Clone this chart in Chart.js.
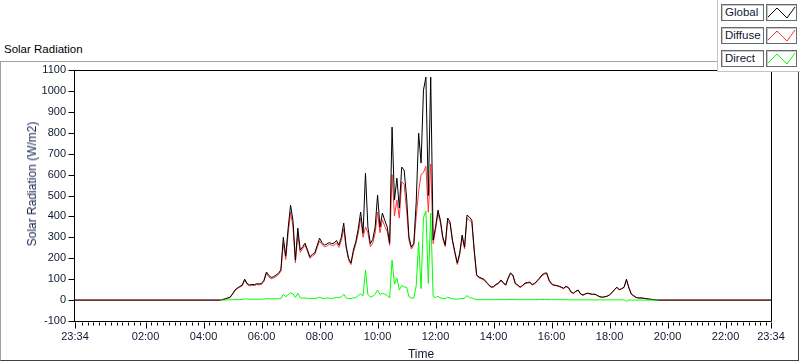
<!DOCTYPE html>
<html>
<head>
<meta charset="utf-8">
<title>Solar Radiation</title>
<script src="https://cdn.jsdelivr.net/npm/chart.js@4.4.0/dist/chart.umd.min.js"></script>
<style>
  html, body { margin: 0; padding: 0; background: #fff; }
  body { width: 800px; height: 361px; position: relative; overflow: hidden; font-family: "Liberation Sans", Arial, sans-serif; }
  #frame { position: absolute; left: 0; top: 61px; width: 797px; height: 298px;
           border: 1px solid #a0a0a0; border-right-color: #404040; border-bottom-color: #404040; }
  #title { position: absolute; left: 4px; top: 43px; font-size: 11.5px; color: #000; }
  #wrap { position: absolute; left: 0; top: 0; width: 800px; height: 361px; }
  #ytitle { position: absolute; left: 32px; top: 184px; transform: translate(-50%, -50%) rotate(-90deg);
            white-space: nowrap; font-size: 12px; color: #1a2550; }
  #xtitle { position: absolute; left: 421px; top: 354px; transform: translate(-50%, -50%);
            font-size: 12px; color: #101830; }
  #legend { position: absolute; left: 717px; top: 0; width: 82px; height: 71px; background: #fff;
            border-left: 1px solid #c4c4c4; border-bottom: 1px solid #c4c4c4; }
  .lab { position: absolute; left: 3px; width: 41px; height: 15px; line-height: 15px; padding-left: 0;
         border: 1px solid #6a6a6a; box-shadow: inset 1px 1px 0 #c8c8c8; font-size: 11.5px; color: #101830; }
  .lab span { padding-left: 3px; }
  .smp { position: absolute; left: 48px; width: 29px; height: 15px; border: 1px solid #6a6a6a;
         box-shadow: inset 1px 1px 0 #c8c8c8; }
  .smp svg { position: absolute; left: 0; top: 0; }
</style>
</head>
<body>
<div id="frame"></div>
<div id="title">Solar Radiation</div>
<div id="wrap"><canvas id="grafico"></canvas></div>
<div id="ytitle">Solar Radiation (W/m2)</div>
<div id="xtitle">Time</div>
<div id="legend"></div>
<script>
// X window: 24 h starting 23:34 of the previous day (minutes from midnight)
const windowStart = -26;
const windowEnd = 1414;

// Samples every 5 minutes starting 04:35 (one row per hour)
const sampleStart = '04:35';
const sampleStep = 5;

const seriesNames = ['Global', 'Diffuse', 'Direct'];
const seriesColors = ['#000000', '#ff3434', '#00ff00'];

const globalW = [
  0, 3, 6, 10, 14,
  30, 48, 58, 65, 72, 100, 80, 72, 75, 74, 78, 77,
  80, 95, 134, 118, 108, 112, 120, 128, 145, 300, 210, 344,
  454, 380, 191, 344, 239, 255, 272, 240, 207, 218, 225, 260,
  296, 275, 263, 268, 275, 270, 272, 285, 263, 300, 368, 258,
  200, 177, 239, 280, 340, 421, 320, 607, 349, 270, 290, 349,
  502, 349, 416, 380, 349, 272, 827, 478, 583, 440, 636, 621,
  492, 301, 253, 272, 470, 798, 655, 1004, 1066, 500, 1066, 287,
  349, 430, 382, 301, 263, 392, 373, 287, 230, 177, 225, 311,
  253, 406, 397, 382, 239, 120, 110, 105, 100, 86, 75, 62,
  65, 75, 81, 96, 85, 72, 105, 130, 120, 80, 72, 62,
  70, 81, 84, 86, 75, 80, 92, 105, 120, 128, 130, 95,
  78, 72, 70, 67, 62, 57, 66, 60, 40, 33, 42, 48,
  30, 24, 30, 33, 30, 28, 28, 22, 16, 14, 16, 19,
  25, 36, 50, 62, 50, 55, 62, 100, 57, 28, 20, 12,
  10, 10, 9, 7, 5, 4, 2, 1, 0
];

const diffuseW = [
  0, 3, 6, 9, 13,
  28, 45, 55, 62, 68, 94, 75, 68, 71, 70, 74, 73,
  75, 90, 127, 111, 102, 106, 113, 122, 138, 272, 194, 318,
  420, 350, 178, 312, 228, 246, 262, 232, 200, 210, 218, 250,
  282, 266, 255, 258, 266, 262, 262, 273, 252, 285, 340, 248,
  192, 170, 228, 268, 318, 392, 300, 350, 322, 256, 272, 320,
  420, 322, 384, 352, 327, 262, 600, 402, 478, 392, 565, 555,
  430, 285, 244, 262, 400, 520, 600, 610, 640, 420, 650, 270,
  338, 414, 370, 292, 255, 378, 362, 280, 222, 170, 217, 300,
  245, 392, 384, 370, 232, 116, 106, 101, 96, 83, 72, 60,
  63, 72, 78, 92, 82, 70, 101, 126, 116, 77, 70, 60,
  68, 78, 81, 83, 72, 77, 89, 101, 116, 124, 126, 91,
  75, 70, 68, 65, 60, 54, 64, 58, 38, 31, 40, 46,
  29, 23, 29, 32, 29, 27, 27, 21, 15, 13, 15, 18,
  24, 35, 48, 60, 48, 53, 60, 94, 62, 30, 22, 13,
  11, 10, 9, 7, 5, 4, 2, 1, 0
];

const directW = [
  0, 0, 0, 1, 1,
  2, 3, 3, 2, 4, 6, 5, 4, 4, 4, 4, 4,
  5, 5, 7, 7, 6, 6, 7, 6, 7, 28, 16, 26,
  34, 30, 13, 32, 11, 9, 10, 8, 7, 8, 7, 10,
  14, 9, 8, 10, 9, 8, 10, 12, 11, 15, 28, 10,
  8, 7, 11, 12, 22, 29, 20, 143, 27, 14, 18, 29,
  48, 27, 32, 28, 22, 10, 191, 76, 105, 48, 70, 62,
  62, 16, 9, 10, 70, 278, 55, 394, 426, 80, 416, 17,
  12, 18, 10, 8, 6, 14, 10, 6, 5, 4, 6, 8,
  8, 22, 12, 10, 5, 3, 2, 2, 2, 2, 2, 2,
  2, 2, 2, 3, 2, 2, 3, 3, 3, 2, 2, 2,
  2, 2, 2, 2, 2, 2, 2, 3, 3, 3, 3, 2,
  2, 2, 2, 2, 2, 2, 2, 1, 1, 1, 1, 1,
  1, 1, 1, 1, 1, 1, 1, 1, 1, 1, 1, 1,
  1, 1, 1, 1, 1, 1, 1, -6, 1, 0, 0, 0,
  0, 0, 0, 0, 0, 0, 0, 0, 0
];

// Y axis
const yMin = -100;
const yMax = 1100;
const yStep = 100;

// Time helpers
function toMin(hhmm) {
  const [h, m] = hhmm.split(':').map(Number);
  return h * 60 + m;
}
function fmtTime(v) {
  const m = ((Math.round(v) % 1440) + 1440) % 1440;
  return String(Math.floor(m / 60)).padStart(2, '0') + ':' + String(m % 60).padStart(2, '0');
}
function isMajor(v) {
  return v === windowStart || v === windowEnd || (v > 0 && v % 120 === 0);
}

// Ticks of the X axis: minor every 12 min, labels every 2 h plus both ends
const xTickValues = [windowStart];
for (let v = -12; v < windowEnd - 5; v += 12) xTickValues.push(v);
xTickValues.push(windowEnd);

const t0 = toMin(sampleStart);
function toPoints(values, padEnds) {
  const pts = values.map((v, i) => ({ x: t0 + i * sampleStep, y: v }));
  if (padEnds) {
    pts.unshift({ x: windowStart, y: 0 });
    pts.push({ x: windowEnd, y: 0 });
  }
  return pts;
}

// Frame of the plot and tick marks
const frameTicks = {
  id: 'frameTicks',
  afterDraw(chart) {
    const { ctx, chartArea: a, scales: { x, y } } = chart;
    const L = Math.round(a.left) - 0.5, R = Math.round(a.right) + 0.5;
    const T = Math.round(a.top) + 0.5, B = Math.round(a.bottom) + 0.5;
    ctx.save();
    ctx.strokeStyle = '#000';
    ctx.lineWidth = 1;
    ctx.beginPath();
    ctx.moveTo(L, T); ctx.lineTo(R, T); ctx.lineTo(R, B); ctx.lineTo(L, B); ctx.closePath();
    y.ticks.forEach(t => {
      const py = Math.round(y.getPixelForValue(t.value)) + 0.5;
      ctx.moveTo(L - 6, py); ctx.lineTo(L, py);
    });
    x.ticks.forEach(t => {
      const px = Math.round(x.getPixelForValue(t.value)) + 0.5;
      ctx.moveTo(px, B + 1); ctx.lineTo(px, B + (isMajor(t.value) ? 7 : 4));
    });
    ctx.stroke();
    ctx.restore();
  }
};

const tickFont = { family: '"Liberation Sans", Arial, sans-serif', size: 11 };

var ctx = document.getElementById('grafico').getContext('2d');
var myChart = new Chart(ctx, {
  type: 'line',
  data: {
    datasets: [
      { label: seriesNames[2], data: toPoints(directW, false), borderColor: seriesColors[2] },
      { label: seriesNames[0], data: toPoints(globalW, true), borderColor: seriesColors[0] },
      { label: seriesNames[1], data: toPoints(diffuseW, true), borderColor: seriesColors[1] }
    ]
  },
  options: {
    responsive: true,
    maintainAspectRatio: false,
    animation: false,
    layout: { padding: { top: 70, right: 29, left: 0, bottom: 0 } },
    elements: {
      point: { radius: 0 },
      line: { borderWidth: 1, tension: 0, fill: false }
    },
    plugins: {
      legend: { display: false },
      tooltip: { enabled: false }
    },
    scales: {
      x: {
        type: 'linear',
        min: windowStart,
        max: windowEnd,
        grid: { display: false, drawTicks: false },
        border: { display: false },
        afterBuildTicks: s => { s.ticks = xTickValues.map(v => ({ value: v })); },
        afterFit: s => { s.height = 40; },
        ticks: {
          autoSkip: false,
          maxRotation: 0,
          minRotation: 0,
          padding: 9,
          color: '#101830',
          font: tickFont,
          callback: v => isMajor(v) ? fmtTime(v) : ''
        }
      },
      y: {
        min: yMin,
        max: yMax,
        grid: { display: false, drawTicks: false },
        border: { display: false },
        afterFit: s => { s.width = 75; },
        ticks: { stepSize: yStep, padding: 9, color: '#101830', font: tickFont, callback: v => String(v) }
      }
    }
  },
  plugins: [frameTicks]
});

// Legend in the LabVIEW style: name box + sample box
const legend = document.getElementById('legend');
seriesNames.forEach((name, i) => {
  const top = 4 + i * 23;
  const lab = document.createElement('div');
  lab.className = 'lab';
  lab.style.top = top + 'px';
  lab.innerHTML = '<span>' + name + '</span>';
  const smp = document.createElement('div');
  smp.className = 'smp';
  smp.style.top = top + 'px';
  smp.innerHTML = '<svg width="29" height="15"><polyline points="1,12 10,3 20,13 28,2" fill="none" stroke="' +
    seriesColors[i] + '" stroke-width="1"/></svg>';
  legend.appendChild(lab);
  legend.appendChild(smp);
});
</script>
</body>
</html>
